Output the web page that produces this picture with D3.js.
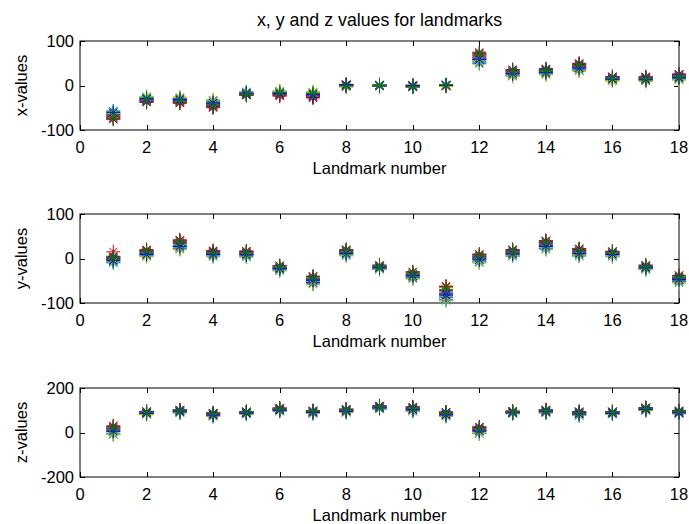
<!DOCTYPE html>
<html lang="en">
<head>
  <meta charset="UTF-8" />
  <title>Landmark values</title>
  <script src="https://d3js.org/d3.v7.min.js"></script>
  <style>
    body {
      margin: 0;
      padding: 0;
      background: #fff;
    }
    svg text {
      font-family: "Liberation Sans", Arial, sans-serif;
      fill: #000;
    }
    .tick-label {
      font-size: 16.5px;
    }
    .axis-title {
      font-size: 16.5px;
    }
    .chart-title {
      font-size: 17.8px;
    }
  </style>
</head>
<body>
  <svg width="689" height="524"></svg>
  <script>
    // landmark numbers and one row of 16 samples per landmark
    const landmarks = d3.range(1, 19);
    const xTicks = [0, 2, 4, 6, 8, 10, 12, 14, 16, 18];

    const xValues = [
      [-58, -62, -74, -66, -70, -60, -76, -64, -67, -72, -57, -68, -63, -75, -61, -69],
      [-26, -32, -36, -28, -34, -24, -38, -30, -31, -35, -27, -33, -25, -37, -29, -32],
      [-28, -36, -40, -30, -34, -26, -38, -32, -33, -37, -29, -35, -27, -39, -31, -34],
      [-34, -44, -50, -38, -46, -32, -48, -40, -41, -47, -36, -43, -33, -49, -39, -45],
      [-16, -20, -22, -14, -19, -15, -21, -17, -18, -21, -15, -19, -16, -22, -17, -20],
      [-13, -21, -24, -15, -19, -12, -22, -16, -17, -23, -14, -20, -13, -21, -18, -16],
      [-16, -24, -28, -18, -22, -14, -26, -19, -20, -25, -17, -23, -15, -27, -21, -18],
      [1, -2, 2, -1, 0, 3, -3, 1, 0, 2, -1, 1, -2, 0, 2, -1],
      [0, -1, 1, 2, -2, 0, 1, -1, 0, 1, -1, 0, 2, -1, 1, 0],
      [-2, -3, 1, 0, -4, 2, -1, -2, -1, 0, -3, -1, 1, -2, 0, -3],
      [1, -1, 0, 2, -2, 1, 0, -1, 0, -1, 1, 0, -2, 2, 0, 1],
      [50, 58, 72, 54, 66, 48, 75, 60, 64, 70, 52, 62, 56, 73, 58, 68],
      [22, 30, 34, 24, 32, 20, 36, 27, 28, 33, 23, 29, 21, 35, 26, 31],
      [26, 30, 36, 28, 34, 24, 38, 32, 31, 35, 27, 33, 25, 37, 29, 34],
      [34, 44, 50, 36, 46, 32, 48, 40, 41, 47, 37, 43, 33, 49, 39, 45],
      [11, 16, 20, 12, 18, 10, 19, 14, 15, 19, 13, 17, 11, 20, 14, 16],
      [10, 15, 20, 11, 17, 9, 18, 13, 14, 18, 12, 16, 10, 19, 13, 15],
      [14, 22, 26, 16, 24, 12, 25, 18, 19, 23, 15, 21, 13, 25, 17, 20]
    ];

    const yValues = [
      [-8, -4, 15, -10, 2, -6, 5, 0, -2, 3, -9, -3, -7, 4, -5, 1],
      [6, 14, 20, 8, 16, 4, 18, 11, 12, 17, 7, 13, 5, 19, 9, 15],
      [22, 34, 42, 24, 36, 20, 38, 28, 30, 40, 26, 33, 21, 41, 27, 35],
      [6, 12, 18, 4, 14, 8, 16, 10, 10, 15, 7, 11, 5, 17, 9, 13],
      [5, 12, 17, 3, 14, 7, 15, 9, 10, 16, 6, 11, 4, 16, 8, 13],
      [-26, -20, -16, -28, -22, -18, -24, -21, -22, -17, -25, -21, -27, -16, -23, -19],
      [-54, -44, -40, -58, -50, -42, -56, -47, -48, -41, -52, -46, -57, -40, -49, -44],
      [8, 16, 20, 6, 14, 10, 18, 12, 13, 19, 9, 15, 7, 20, 11, 17],
      [-24, -18, -15, -25, -21, -17, -23, -19, -20, -16, -22, -19, -24, -15, -21, -18],
      [-44, -34, -30, -46, -40, -32, -42, -37, -38, -31, -41, -36, -45, -30, -39, -35],
      [-92, -72, -62, -95, -84, -66, -88, -78, -80, -64, -86, -75, -93, -63, -82, -70],
      [-8, 4, 10, -10, 2, -4, 6, -1, 0, 8, -6, 3, -9, 9, -3, 5],
      [6, 14, 20, 5, 16, 9, 18, 11, 12, 19, 8, 13, 6, 20, 10, 15],
      [22, 34, 40, 20, 36, 26, 38, 29, 30, 39, 24, 32, 21, 40, 27, 35],
      [7, 16, 22, 5, 18, 10, 20, 12, 13, 21, 8, 15, 6, 22, 11, 17],
      [5, 12, 16, 4, 14, 8, 15, 10, 10, 15, 6, 11, 5, 16, 9, 13],
      [-24, -18, -15, -25, -21, -17, -23, -19, -20, -16, -22, -19, -24, -15, -21, -18],
      [-52, -42, -38, -55, -48, -40, -50, -44, -45, -39, -51, -46, -54, -38, -47, -42]
    ];

    const zValues = [
      [-8, 18, 30, -10, 12, 2, 24, 8, 10, 26, -4, 16, -9, 28, 5, 20],
      [82, 90, 95, 80, 92, 85, 94, 87, 88, 93, 83, 89, 81, 95, 86, 91],
      [89, 97, 102, 88, 99, 92, 100, 94, 95, 101, 90, 96, 89, 102, 93, 98],
      [73, 82, 88, 72, 84, 76, 86, 79, 80, 87, 75, 81, 73, 88, 78, 84],
      [83, 90, 94, 82, 91, 85, 93, 87, 88, 93, 84, 89, 83, 94, 86, 91],
      [96, 104, 110, 95, 106, 99, 108, 101, 102, 109, 97, 103, 96, 110, 100, 106],
      [86, 94, 98, 85, 95, 89, 97, 91, 92, 97, 87, 93, 86, 98, 90, 95],
      [91, 100, 105, 90, 102, 94, 104, 97, 98, 104, 92, 99, 91, 105, 95, 101],
      [106, 114, 120, 105, 116, 109, 118, 111, 112, 119, 107, 113, 106, 120, 110, 116],
      [96, 108, 115, 95, 110, 100, 112, 104, 105, 114, 98, 106, 96, 115, 102, 110],
      [74, 84, 92, 72, 86, 78, 90, 81, 82, 91, 76, 83, 73, 92, 79, 87],
      [-5, 14, 25, -3, 18, 4, 22, 8, 10, 24, -2, 12, -4, 25, 6, 16],
      [85, 92, 96, 84, 93, 87, 95, 89, 90, 95, 86, 91, 85, 96, 88, 93],
      [89, 97, 102, 88, 99, 92, 100, 94, 95, 101, 90, 96, 89, 102, 93, 98],
      [77, 88, 94, 76, 90, 81, 92, 84, 85, 93, 79, 86, 77, 94, 83, 89],
      [83, 90, 94, 82, 91, 85, 93, 87, 88, 93, 84, 89, 83, 94, 86, 91],
      [99, 107, 112, 98, 109, 102, 110, 104, 105, 111, 100, 106, 99, 112, 103, 108],
      [85, 92, 98, 84, 94, 87, 96, 89, 90, 97, 86, 91, 85, 98, 88, 94]
    ];

    const panels = [
      { label: "x-values", values: xValues, domain: [-100, 100], ticks: [-100, 0, 100], top: 41 },
      { label: "y-values", values: yValues, domain: [-100, 100], ticks: [-100, 0, 100], top: 214 },
      { label: "z-values", values: zValues, domain: [-200, 200], ticks: [-200, 0, 200], top: 388 }
    ];

    const sampleColors = ["#0000ff", "#008000", "#ff0000", "#00bfbf", "#bf00bf", "#bfbf00", "#404040"];

    const svg = d3.select("svg");
    const left = 80, right = 679, panelHeight = 89;
    const tickLen = 5;

    const x = d3.scaleLinear().domain([0, 18]).range([left, right]);

    // asterisk marker, like matlab '*'
    const arm = 7, diag = 4;
    const starPath = `M${-arm},0H${arm}M0,${-arm}V${arm}M${-diag},${-diag}L${diag},${diag}M${-diag},${diag}L${diag},${-diag}`;

    svg.append("text")
      .attr("class", "chart-title")
      .attr("x", (left + right) / 2)
      .attr("y", 26)
      .attr("text-anchor", "middle")
      .text("x, y and z values for landmarks");

    panels.forEach(panel => {
      const y = d3.scaleLinear().domain(panel.domain).range([panel.top + panelHeight, panel.top]);
      const g = svg.append("g");
      const bottom = panel.top + panelHeight;

      // box
      g.append("rect")
        .attr("x", left)
        .attr("y", panel.top)
        .attr("width", right - left)
        .attr("height", panelHeight)
        .attr("fill", "none")
        .attr("stroke", "#000")
        .attr("stroke-width", 1);

      // x ticks, inward on bottom and top
      xTicks.forEach(t => {
        const px = Math.round(x(t)) + 0.5;
        g.append("line").attr("x1", px).attr("x2", px)
          .attr("y1", bottom).attr("y2", bottom - tickLen).attr("stroke", "#000");
        g.append("line").attr("x1", px).attr("x2", px)
          .attr("y1", panel.top).attr("y2", panel.top + tickLen).attr("stroke", "#000");
        g.append("text")
          .attr("class", "tick-label")
          .attr("x", x(t))
          .attr("y", bottom + 23)
          .attr("text-anchor", "middle")
          .text(t);
      });

      // y ticks, inward on left and right
      panel.ticks.forEach(t => {
        const py = Math.round(y(t)) + 0.5;
        g.append("line").attr("x1", left).attr("x2", left + tickLen)
          .attr("y1", py).attr("y2", py).attr("stroke", "#000");
        g.append("line").attr("x1", right).attr("x2", right - tickLen)
          .attr("y1", py).attr("y2", py).attr("stroke", "#000");
        g.append("text")
          .attr("class", "tick-label")
          .attr("x", left - 6)
          .attr("y", y(t))
          .attr("dy", "0.36em")
          .attr("text-anchor", "end")
          .text(t);
      });

      g.append("text")
        .attr("class", "axis-title")
        .attr("x", (left + right) / 2)
        .attr("y", bottom + 44)
        .attr("text-anchor", "middle")
        .text("Landmark number");

      g.append("text")
        .attr("class", "axis-title")
        .attr("transform", `translate(27,${panel.top + panelHeight / 2}) rotate(-90)`)
        .attr("text-anchor", "middle")
        .text(panel.label);

      // markers: one pass per sample, drawn over the box
      const nSamples = panel.values[0].length;
      for (let s = 0; s < nSamples; s++) {
        g.selectAll(null)
          .data(landmarks)
          .join("path")
          .attr("d", starPath)
          .attr("transform", d => `translate(${x(d)},${y(panel.values[d - 1][s])})`)
          .attr("fill", "none")
          .attr("stroke", sampleColors[s % sampleColors.length])
          .attr("stroke-width", 1);
      }
    });
  </script>
</body>
</html>
